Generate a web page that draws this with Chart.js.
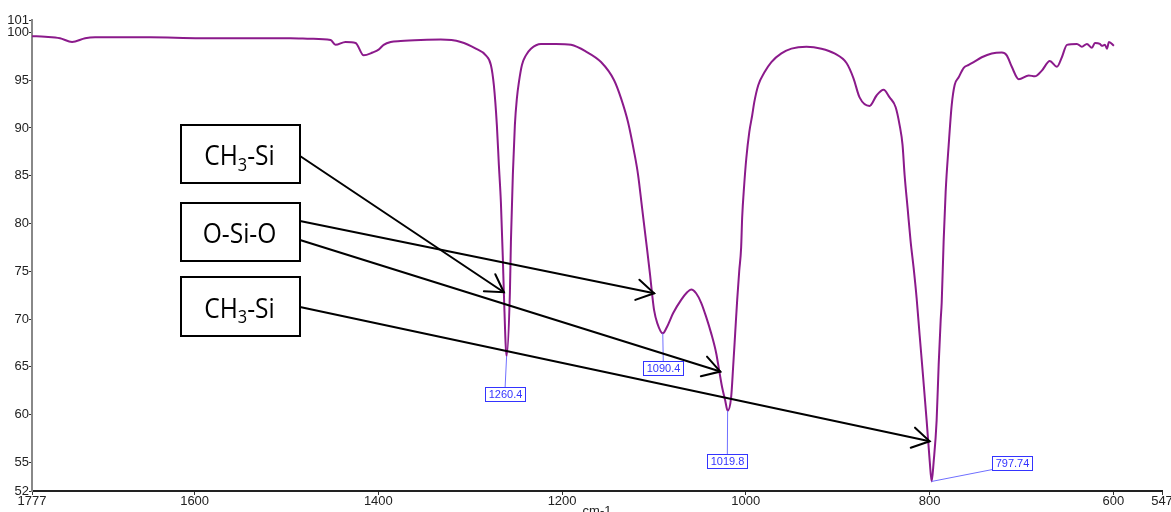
<!DOCTYPE html>
<html>
<head>
<meta charset="utf-8">
<title>FTIR spectrum</title>
<script src="https://cdn.jsdelivr.net/npm/chart.js@4.4.0/dist/chart.umd.min.js"></script>
<style>
  html, body { margin: 0; padding: 0; background: #fff; overflow: hidden; }
  #wrap { position: relative; width: 1171px; height: 512px; }
</style>
</head>
<body>
<div id="wrap"><canvas id="c" width="1171" height="512"></canvas></div>
<script>
// Spectrum: wavenumber (cm-1) and transmittance (%)
const wavenumbers = [
  1777.0, 1762.8, 1746.5, 1733.4, 1719.2, 1708.3, 1648.3, 1593.8, 1539.3, 1495.7,
  1473.8, 1452.0, 1446.6, 1435.7, 1424.8, 1416.0, 1406.2, 1399.7, 1394.2, 1386.6,
  1375.7, 1353.9, 1332.1, 1310.3, 1293.9, 1283.0, 1277.5, 1274.3, 1271.0, 1268.8,
  1266.6, 1264.5, 1263.4, 1260.4, 1256.8, 1255.7, 1253.6, 1251.4, 1249.2, 1247.0,
  1243.7, 1239.4, 1233.9, 1223.0, 1206.7, 1190.3, 1174.0, 1157.6, 1143.4, 1135.8,
  1128.2, 1121.6, 1117.3, 1112.9, 1108.5, 1104.2, 1102.0, 1099.8, 1096.5, 1090.4,
  1085.7, 1079.2, 1070.4, 1063.9, 1059.5, 1054.1, 1048.6, 1043.1, 1037.7, 1032.2,
  1029.0, 1025.7, 1022.5, 1019.8, 1016.0, 1013.8, 1011.6, 1009.4, 1007.2, 1005.1,
  1004.0, 1001.8, 999.5, 996.2, 993.1, 990.8, 986.4, 979.9, 972.2, 961.3,
  950.4, 934.0, 917.7, 903.5, 890.4, 882.8, 876.2, 865.3, 857.7, 850.1,
  843.5, 837.0, 832.6, 829.4, 827.2, 823.9, 820.6, 817.4, 814.1, 810.8,
  807.5, 803.2, 799.9, 797.74, 795.6, 792.3, 790.1, 787.9, 786.8, 784.7,
  782.5, 779.2, 775.9, 772.7, 768.3, 762.8, 757.4, 752.0, 743.2, 732.3,
  721.4, 716.0, 710.5, 702.9, 692.0, 685.4, 677.8, 669.1, 661.4, 656.0,
  650.5, 639.6, 634.2, 628.7, 623.3, 620.0, 614.6, 612.4, 609.1, 606.9,
  604.7, 599.3
];
const transmittance = [
  99.6, 99.55, 99.4, 99.0, 99.4, 99.5, 99.5, 99.4, 99.4, 99.4,
  99.35, 99.2, 98.7, 99.0, 98.9, 97.6, 97.9, 98.2, 98.7, 99.0,
  99.1, 99.2, 99.25, 99.0, 98.3, 97.6, 96.6, 94.5, 90.3, 86.1,
  82.2, 76.4, 72.8, 66.1, 72.8, 78.1, 85.1, 90.3, 93.1, 94.8,
  96.6, 97.6, 98.3, 98.8, 98.8, 98.7, 98.0, 96.9, 95.0, 93.1,
  90.6, 87.5, 85.1, 81.6, 78.1, 74.6, 72.6, 70.9, 69.6, 68.5,
  69.2, 70.6, 72.0, 72.8, 73.1, 72.7, 71.7, 70.2, 68.5, 66.4,
  64.6, 62.8, 61.5, 60.4, 61.8, 65.0, 68.5, 72.0, 75.0, 77.5,
  80.6, 84.0, 86.8, 89.6, 91.3, 92.7, 94.5, 95.8, 96.9, 97.8,
  98.3, 98.5, 98.3, 97.8, 96.8, 95.2, 93.2, 92.3, 93.4, 94.0,
  93.2, 92.2, 90.3, 88.2, 85.1, 81.6, 78.1, 75.4, 72.2, 68.3,
  64.5, 59.4, 55.2, 53.0, 55.0, 59.4, 65.2, 69.9, 71.7, 78.1,
  83.3, 88.2, 92.4, 94.5, 95.3, 96.3, 96.6, 96.9, 97.4, 97.8,
  97.9, 97.6, 96.4, 95.1, 95.5, 95.4, 96.0, 97.0, 96.4, 97.4,
  98.7, 98.8, 98.5, 98.8, 98.4, 98.9, 98.8, 98.6, 98.7, 98.3,
  99.0, 98.6
];

// Axis ticks
const xTicks = [1777, 1600, 1400, 1200, 1000, 800, 600, 547];
const yTicks = [52, 55, 60, 65, 70, 75, 80, 85, 90, 95, 100, 101.3];
const xMin = 547, xMax = 1777, yMin = 52, yMax = 101.3;
const xTitle = 'cm-1';

// Picked peaks
const peakPositions = [1260.4, 1090.4, 1019.8, 797.74];
const peakValues = [66.1, 68.5, 60.4, 53.0];
const peakLabels = ['1260.4', '1090.4', '1019.8', '797.74'];

// Band assignments and the points their arrows indicate
const groupNames = ['CH3-Si', 'O-Si-O', 'CH3-Si'];
const arrowGroup = [0, 1, 1, 2];
const arrowWavenumbers = [1263.4, 1099.8, 1027.8, 799.9];
const arrowValues = [72.8, 72.7, 64.5, 57.2];

const spectrum = wavenumbers.map((w, i) => ({ x: w, y: transmittance[i] }));

const tickFont = { family: "'Liberation Sans Narrow', 'Liberation Sans', Arial, sans-serif", size: 13 };

// Draws "CH3" style formulas with the digits lowered as subscripts
function drawFormula(ctx, text, cx, baseline, size, squeeze) {
  const parts = text.match(/\d+|\D+/g);
  const fam = "'Open Sans', 'Noto Sans', sans-serif";
  const subSize = Math.round(size * 0.68);
  let total = 0;
  const widths = parts.map(p => {
    ctx.font = (/^\d+$/.test(p) ? subSize : size) + 'px ' + fam;
    const w = ctx.measureText(p).width;
    total += w;
    return w;
  });
  ctx.save();
  ctx.translate(cx, baseline);
  ctx.scale(squeeze, 1);
  let x = -total / 2;
  ctx.textBaseline = 'alphabetic';
  ctx.textAlign = 'left';
  parts.forEach((p, i) => {
    const sub = /^\d+$/.test(p);
    ctx.font = (sub ? subSize : size) + 'px ' + fam;
    ctx.fillText(p, x, sub ? size * 0.22 : 0);
    x += widths[i];
  });
  ctx.restore();
}

function drawArrow(ctx, x0, y0, x1, y1) {
  ctx.beginPath();
  ctx.moveTo(x0, y0);
  ctx.lineTo(x1, y1);
  ctx.stroke();
  const a = Math.atan2(y1 - y0, x1 - x0);
  const L = 20, h = 0.54;
  ctx.beginPath();
  ctx.moveTo(x1 - L * Math.cos(a - h), y1 - L * Math.sin(a - h));
  ctx.lineTo(x1, y1);
  ctx.lineTo(x1 - L * Math.cos(a + h), y1 - L * Math.sin(a + h));
  ctx.stroke();
}

const annotations = {
  id: 'annotations',
  afterDatasetsDraw(chart) {
    const ctx = chart.ctx;
    const xs = chart.scales.x, ys = chart.scales.y;

    // peak picks: leader line + boxed value
    const labelOffsets = [[-1.5, 38], [0.5, 35], [-0.3, 50], [80, -18]];
    ctx.save();
    ctx.font = "11px 'Liberation Sans', Arial, sans-serif";
    peakPositions.forEach((w, i) => {
      const px = xs.getPixelForValue(w);
      const py = ys.getPixelForValue(peakValues[i]);
      const tw = ctx.measureText(peakLabels[i]).width;
      const bw = Math.round(tw + 6), bh = 14;
      const cx = px + labelOffsets[i][0], cy = py + labelOffsets[i][1];
      const bx = Math.round(cx - bw / 2) + 0.5, by = Math.round(cy - bh / 2) + 0.5;
      ctx.strokeStyle = '#6f6fff';
      ctx.lineWidth = 1;
      ctx.beginPath();
      ctx.moveTo(px, py);
      if (labelOffsets[i][0] > 20) ctx.lineTo(bx, by + bh - 1);
      else ctx.lineTo(cx, by);
      ctx.stroke();
      ctx.fillStyle = '#ffffff';
      ctx.fillRect(bx, by, bw, bh);
      ctx.strokeStyle = '#3434ff';
      ctx.strokeRect(bx, by, bw, bh);
      ctx.fillStyle = '#3434ff';
      ctx.textAlign = 'center';
      ctx.textBaseline = 'middle';
      ctx.fillText(peakLabels[i], bx + bw / 2, by + bh / 2 + 0.5);
    });
    ctx.restore();

    // assignment boxes with arrows
    const boxes = [[181, 125, 119, 58], [181, 203, 119, 58], [181, 277, 119, 59]];
    const startDy = [31, 18, 37, 30];
    ctx.save();
    ctx.strokeStyle = '#000';
    ctx.lineWidth = 2;
    ctx.lineCap = 'round';
    arrowWavenumbers.forEach((w, i) => {
      const b = boxes[arrowGroup[i]];
      drawArrow(ctx, b[0] + b[2], b[1] + startDy[i],
        xs.getPixelForValue(w), ys.getPixelForValue(arrowValues[i]));
    });
    groupNames.forEach((name, i) => {
      const b = boxes[i];
      ctx.fillStyle = '#fff';
      ctx.fillRect(b[0], b[1], b[2], b[3]);
      ctx.strokeRect(b[0], b[1], b[2], b[3]);
      ctx.fillStyle = '#000';
      drawFormula(ctx, name, b[0] + b[2] / 2 - 1, b[1] + b[3] / 2 + 11, 27, 0.91);
    });
    ctx.restore();
  },
  afterDraw(chart) {
    const ctx = chart.ctx;
    const a = chart.chartArea;
    ctx.save();
    ctx.fillStyle = '#222';
    ctx.font = "13px 'Liberation Sans', Arial, sans-serif";
    ctx.textAlign = 'center';
    ctx.textBaseline = 'top';
    ctx.fillText(xTitle, (a.left + a.right) / 2, 505);
    ctx.restore();
  }
};

new Chart(document.getElementById('c'), {
  type: 'line',
  data: {
    datasets: [{
      data: spectrum,
      borderColor: '#8b1a8b',
      borderWidth: 2,
      pointRadius: 0,
      fill: false,
      cubicInterpolationMode: 'monotone'
    }]
  },
  options: {
    responsive: false,
    animation: false,
    events: [],
    layout: { padding: { top: 20, right: 9, left: 0, bottom: 0 } },
    plugins: { legend: { display: false }, tooltip: { enabled: false } },
    scales: {
      x: {
        type: 'linear',
        reverse: true,
        min: xMin,
        max: xMax,
        afterBuildTicks: s => { s.ticks = xTicks.map(v => ({ value: v })); },
        afterFit: s => { s.height = 21; s.paddingLeft = 0; s.paddingRight = 0; },
        grid: { drawOnChartArea: false, drawTicks: true, tickLength: 4, color: '#333', lineWidth: 1 },
        border: { display: true, color: '#222', width: 2 },
        ticks: {
          autoSkip: false, maxRotation: 0, padding: -1, color: '#222', font: tickFont,
          callback: v => String(v)
        }
      },
      y: {
        type: 'linear',
        min: yMin,
        max: yMax,
        afterBuildTicks: s => { s.ticks = yTicks.map(v => ({ value: v })); },
        afterFit: s => { s.width = 32; s.paddingTop = 0; s.paddingBottom = 0; },
        grid: { drawOnChartArea: false, drawTicks: true, tickLength: 3, color: '#333', lineWidth: 1 },
        border: { display: true, color: '#888', width: 2 },
        ticks: {
          autoSkip: false, padding: 0, color: '#222', font: tickFont,
          callback: v => String(Math.round(v))
        }
      }
    }
  },
  plugins: [annotations]
});
</script>
</body>
</html>
